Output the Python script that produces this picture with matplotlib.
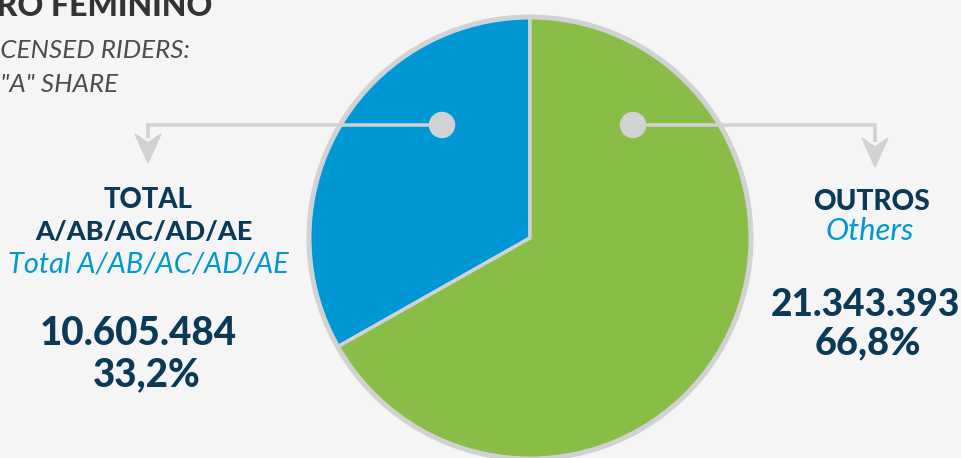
import matplotlib
matplotlib.use("Agg")
import matplotlib.pyplot as plt
from matplotlib.patches import Circle, Polygon

# Data
categories = ["TOTAL\nA/AB/AC/AD/AE", "OUTROS"]
subtitles = ["Total A/AB/AC/AD/AE", "Others"]
values = [10605484, 21343393]
value_labels = ["10.605.484", "21.343.393"]
share_labels = ["33,2%", "66,8%"]
colors = ["#0098d4", "#8abd48"]

W, H = 961, 458
BG = "#f5f5f5"
GRAY = "#d1d2d4"
NAVY = "#0b3a57"
BLUE = "#0098d4"

plt.rcParams["font.family"] = ["Lato", "DejaVu Sans"]

fig = plt.figure(figsize=(W / 100, H / 100), dpi=100, facecolor=BG)
ax = fig.add_axes([0, 0, 1, 1])
ax.set_xlim(0, W)
ax.set_ylim(0, H)
ax.set_aspect("equal")
ax.axis("off")
ax.set_facecolor(BG)


def Y(y):
    return H - y


px = 0.72  # points per pixel at 100 dpi

# Pie
cx, cy, r = 530, 238, 221
ax.pie(values, colors=colors, startangle=90, counterclock=True,
       center=(cx, Y(cy)), radius=r,
       wedgeprops=dict(edgecolor=GRAY, linewidth=3.5 * px))
ax.add_patch(Circle((cx, Y(cy)), r, fill=False, edgecolor=GRAY,
                    linewidth=5 * px, zorder=3))
ax.set_xlim(0, W)
ax.set_ylim(0, H)

# Connectors with dots and notched arrowheads
def connector(x_dot, x_end, y_line, y_base, y_tip):
    ax.plot([x_dot, x_end, x_end], [Y(y_line), Y(y_line), Y(y_base + 4)],
            color=GRAY, linewidth=3.5 * px, zorder=4, solid_capstyle="butt",
            solid_joinstyle="miter")
    ax.add_patch(Polygon([(x_end - 13, Y(y_base)), (x_end, Y(y_base + 9)),
                          (x_end + 13, Y(y_base)), (x_end, Y(y_tip))],
                         closed=True, color=GRAY, zorder=4))
    ax.add_patch(Circle((x_dot, Y(y_line)), 12.5, color=GRAY, zorder=5))

connector(442, 148, 125, 134, 163)
connector(633, 875, 125, 138, 167)

# Header
ax.text(212, Y(16), "GÊNERO FEMININO", ha="right", va="baseline",
        fontsize=32 * px, fontweight="black", color="#333333")
ax.text(190, Y(58), "LICENSED RIDERS:", ha="right", va="baseline",
        fontsize=26 * px, style="italic", color="#4d4d4d")
ax.text(118, Y(92), "CATEGORY \"A\" SHARE", ha="right", va="baseline",
        fontsize=26 * px, style="italic", color="#4d4d4d")

# Left label block
ax.text(148, Y(208), "TOTAL", ha="center", va="baseline",
        fontsize=27.5 * px, fontweight="black", color=NAVY)
ax.text(144, Y(240), "A/AB/AC/AD/AE", ha="center", va="baseline",
        fontsize=27 * px, fontweight="black", color=NAVY)
ax.text(148, Y(272), subtitles[0], ha="center", va="baseline",
        fontsize=29 * px, style="italic", color=BLUE)
ax.text(138, Y(345), value_labels[0], ha="center", va="baseline",
        fontsize=38.5 * px, fontweight="black", color=NAVY)
ax.text(147, Y(386), share_labels[0], ha="center", va="baseline",
        fontsize=38.5 * px, fontweight="black", color=NAVY)

# Right label block
ax.text(871, Y(210), categories[1], ha="center", va="baseline",
        fontsize=28 * px, fontweight="black", color=NAVY)
ax.text(870, Y(240), subtitles[1], ha="center", va="baseline",
        fontsize=31 * px, style="italic", color=BLUE)
ax.text(865, Y(316), value_labels[1], ha="center", va="baseline",
        fontsize=37 * px, fontweight="black", color=NAVY)
ax.text(868, Y(354), share_labels[1], ha="center", va="baseline",
        fontsize=38 * px, fontweight="black", color=NAVY)

fig.savefig("out.png", dpi=100, facecolor=BG)
